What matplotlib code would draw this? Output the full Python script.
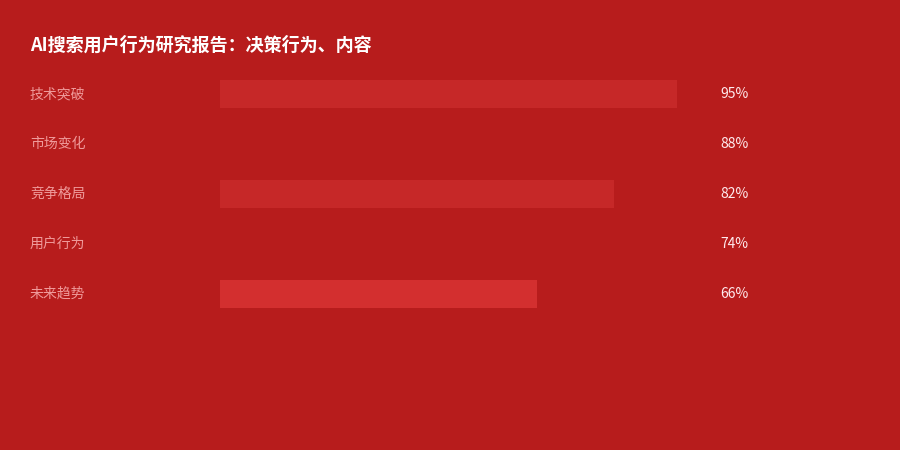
import matplotlib
matplotlib.use('Agg')
from matplotlib import pyplot as plt
from matplotlib.transforms import blended_transform_factory

plt.rcParams['font.family'] = ['Noto Sans CJK SC', 'DejaVu Sans']

# Data
categories = ['技术突破', '市场变化', '竞争格局', '用户行为', '未来趋势']
values = [95, 88, 82, 74, 66]
bar_colors = ['#C62828', '#B71C1C', '#C62828', '#B71C1C', '#D32F2F']
title = 'AI搜索用户行为研究报告：决策行为、内容'

bg = '#B71C1C'

fig = plt.figure(figsize=(9, 4.5), dpi=100, facecolor=bg)
ax = fig.add_axes([220 / 900, 1 - 319 / 450, 481 / 900, 250 / 450])
ax.set_facecolor(bg)

rows = list(range(len(categories)))
ax.barh(rows, values, height=0.56, color=bar_colors, left=0)
ax.set_xlim(0, 100)
ax.set_ylim(len(categories) - 0.5, -0.5)
ax.axis('off')

trans = blended_transform_factory(fig.transFigure, ax.transData)
for i, (cat, val) in enumerate(zip(categories, values)):
    ax.text(30 / 900, i, cat, transform=trans, ha='left', va='center',
            fontsize=10, color='#EF9A9A')
    ax.text(720 / 900, i, f'{val}%', transform=trans, ha='left', va='center',
            fontsize=10, color='#FFEBEE')

fig.text(30 / 900, 1 - 45 / 450, title, ha='left', va='center',
         fontsize=13, fontweight='bold', color='white')

fig.savefig('out.png', dpi=100, facecolor=bg)
